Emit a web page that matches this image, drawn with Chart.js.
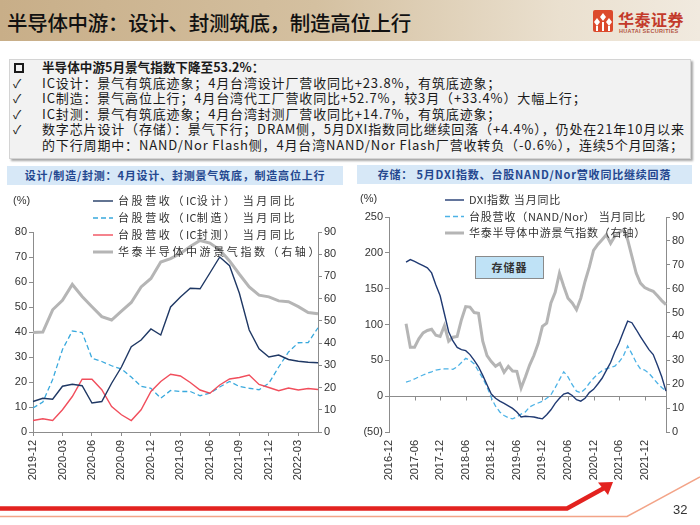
<!DOCTYPE html>
<html><head><meta charset="utf-8">
<script src="https://cdn.jsdelivr.net/npm/chart.js@4.4.1/dist/chart.umd.min.js"></script>
<style>
body{margin:0;background:#fff;}
#page{position:relative;width:700px;height:525px;overflow:hidden;background:#fff;font-family:"Noto Sans CJK SC","Liberation Sans",sans-serif;}
#hdr{position:absolute;left:0;top:0;width:700px;height:41px;background:linear-gradient(to right,#c8ae88 0%,#d4c0a0 45%,#eae0cf 80%,#f1eadf 100%);}
#title{position:absolute;left:7px;top:7px;font-size:20.5px;color:#111;letter-spacing:-0.3px;white-space:nowrap;font-weight:500;}
#logo{position:absolute;left:593px;top:10px;width:20px;height:22px;background:#dc4a2c;border-radius:2px;}
#logoT{position:absolute;left:618px;top:7px;font-size:16px;font-weight:bold;color:#c33a2b;letter-spacing:0.5px;white-space:nowrap;}
#logoS{position:absolute;left:619px;top:28px;font-size:5.5px;color:#b35544;font-family:"Liberation Sans",sans-serif;font-weight:bold;white-space:nowrap;letter-spacing:0.3px;}
#box{position:absolute;left:9px;top:59px;width:680px;height:98px;background:#f2f2f2;border:1px solid #d4d4d4;box-shadow:2px 2px 2px #a8a8a8;}
.ln{position:absolute;left:42px;font-size:13px;color:#1a1a1a;white-space:nowrap;line-height:14px;letter-spacing:0.85px;}
.bl{position:absolute;left:13px;font-size:12px;color:#1a1a1a;line-height:14px;}
#sq{position:absolute;left:14px;top:63px;width:6px;height:6px;border:2px solid #1a1a1a;}
.bar{position:absolute;height:19px;background:#d7e8f7;color:#24478f;font-weight:bold;font-size:11px;line-height:19px;text-align:center;white-space:nowrap;letter-spacing:0.8px;}
canvas{position:absolute;}
#mem{position:absolute;left:475px;top:256px;width:67px;height:21px;background:#bfe2f6;border:1px solid #8a8a8a;text-align:center;line-height:21px;font-size:11px;font-weight:bold;color:#333;letter-spacing:1px;}
#pg{position:absolute;left:673px;top:502px;font-size:13px;color:#333;font-family:"Liberation Sans",Arial,sans-serif;}
</style></head>
<body>
<div id="page">
  <div id="hdr"></div>
  <div id="title">半导体中游：设计、封测筑底，制造高位上行</div>
  <div id="logo">
    <svg width="20" height="22" viewBox="0 0 20 22"><path d="M10 3 L13 7 L10 11 L7 7 Z M4 8 L7 12 L4 16 L1 12 Z M16 8 L19 12 L16 16 L13 12 Z" fill="#fff"/><rect x="3" y="16" width="2" height="5" fill="#fff"/><rect x="9" y="12" width="2" height="9" fill="#fff"/><rect x="15" y="16" width="2" height="5" fill="#fff"/></svg>
  </div>
  <div id="logoT">华泰证券</div>
  <div id="logoS">HUATAI SECURITIES</div>

  <div id="box"></div>
  <div id="sq"></div>
  <div class="ln" style="top:60px;font-weight:bold;font-size:12.6px;letter-spacing:0;">半导体中游5月景气指数下降至53.2%：</div>
  <div class="bl" style="top:76px;">✓</div>
  <div class="ln" style="top:76px;">IC设计：景气有筑底迹象；4月台湾设计厂营收同比+23.8%，有筑底迹象；</div>
  <div class="bl" style="top:91px;">✓</div>
  <div class="ln" style="top:91px;">IC制造：景气高位上行；4月台湾代工厂营收同比+52.7%，较3月（+33.4%）大幅上行；</div>
  <div class="bl" style="top:107px;">✓</div>
  <div class="ln" style="top:107px;">IC封测：景气有筑底迹象；4月台湾封测厂营收同比+14.7%，有筑底迹象；</div>
  <div class="bl" style="top:122px;">✓</div>
  <div class="ln" style="top:122px;">数字芯片设计（存储）：景气下行；DRAM侧，5月DXI指数同比继续回落（+4.4%），仍处在21年10月以来</div>
  <div class="ln" style="top:138px;">的下行周期中：NAND/Nor Flash侧，4月台湾NAND/Nor Flash厂营收转负（-0.6%），连续5个月回落；</div>

  <div class="bar" style="left:7px;top:166px;width:336px;">设计/制造/封测：4月设计、封测景气筑底，制造高位上行</div>
  <div class="bar" style="left:357px;top:165px;width:335px;">存储：&nbsp;5月DXI指数、台股NAND/Nor营收同比继续回落</div>

  <canvas id="c1" width="345" height="300" style="left:0px;top:190px;"></canvas>
  <canvas id="c2" width="350" height="300" style="left:350px;top:190px;"></canvas>
  <div id="mem">存储器</div>

  <svg style="position:absolute;left:0;top:0" width="700" height="525">
    <polyline points="0,516.5 627,516.5 700,477" fill="none" stroke="#f3a488" stroke-width="1.5"/>
    <polyline points="0,508.5 567,508.5 606,487" fill="none" stroke="#e3221f" stroke-width="4.5"/>
    <polygon points="613,482 598,482.5 608,495" fill="#e3221f"/>
  </svg>
  <div id="pg">32</div>
</div>
<script>
// ---------- Left chart data (monthly, 2019-12 .. 2022-05) ----------
const leftMonths = ['2019-12','2020-01','2020-02','2020-03','2020-04','2020-05','2020-06','2020-07','2020-08','2020-09','2020-10','2020-11','2020-12','2021-01','2021-02','2021-03','2021-04','2021-05','2021-06','2021-07','2021-08','2021-09','2021-10','2021-11','2021-12','2022-01','2022-02','2022-03','2022-04','2022-05'];
const icDesign  = [12.2,13.5,13.1,18.3,19.1,18.5,11.6,12.2,19.5,26.0,34.1,36.8,41.2,38.8,50.0,54.0,57.5,57.3,63.6,70.0,66.5,55.5,40.8,33.3,30.0,30.8,29.0,28.3,27.9,27.7];
const icFoundry = [9.6,12.0,21.0,33.0,40.4,39.8,29.5,28.2,26.5,25.2,22.0,18.3,17.5,13.5,16.6,16.2,16.2,14.5,15.5,18.0,20.2,18.2,17.5,16.9,19.5,26.0,32.0,35.7,35.8,41.7];
const icOSAT    = [4.6,5.3,4.6,8.9,14.2,21.1,21.1,16.9,10.2,6.9,4.6,8.9,16.2,20.2,23.1,22.4,19.8,16.8,15.5,18.8,21.2,21.8,22.8,19.0,17.8,16.5,17.6,16.8,17.4,17.0];
const htIndexL  = [44.8,45.0,55.0,59.3,66.4,61.0,56.4,51.9,50.4,54.4,58.3,65.3,69.1,76.5,78.0,80.3,83.5,86.2,85.0,82.0,77.0,71.0,65.3,61.6,60.8,59.0,58.6,56.4,53.8,53.2];
const leftNames = ['台股营收（IC设计） 当月同比','台股营收（IC制造） 当月同比','台股营收（IC封测） 当月同比','华泰半导体中游景气指数（右轴）'];

// ---------- Right chart data (monthly, 2016-12 .. 2022-05) ----------
const rightMonths = ['2016-12','2017-01','2017-02','2017-03','2017-04','2017-05','2017-06','2017-07','2017-08','2017-09','2017-10','2017-11',
 '2017-12','2018-01','2018-02','2018-03','2018-04','2018-05','2018-06','2018-07','2018-08','2018-09','2018-10','2018-11',
 '2018-12','2019-01','2019-02','2019-03','2019-04','2019-05','2019-06','2019-07','2019-08','2019-09','2019-10','2019-11',
 '2019-12','2020-01','2020-02','2020-03','2020-04','2020-05','2020-06','2020-07','2020-08','2020-09','2020-10','2020-11',
 '2020-12','2021-01','2021-02','2021-03','2021-04','2021-05','2021-06','2021-07','2021-08','2021-09','2021-10','2021-11',
 '2021-12','2022-01','2022-02','2022-03','2022-04','2022-05'];
const dxiYoY = [null,null,null,null,187,190.5,188,185,182,179,172,155,
 140,115,90,77,68,65,63.5,58,50,41,29,16,
 3,-3,-7,-10,-13.5,-17,-22,-29,-28,-28.5,-29,-30.5,
 -31.6,-26,-19,-10,-3,3,4.7,1,-5,-7,-3,5,
 9.5,17,25,36,47,62,74.5,90,104.7,102.5,93,83,
 74,65,58,43,27,7];
const nandYoY = [null,null,null,null,19.5,21.5,24,27,29.5,32,34,36.5,
 37.5,38,38,37.5,41,47,53,50,45,35,25,13,
 -2,-14,-22,-27,-30,-31.6,-29,-25,-22,-15,-12,-9.5,
 -7,-3,2,12,23,34,27,16,7,4.7,10,18,
 25,31,35.5,38.5,40,42,48,56,70,59,47,38,
 36.5,32,25,18,12,7];
const htIndexR = [null,null,null,null,45.3,35.5,35.5,39,41.5,42.5,43,40.5,
 40,44.5,38,39.7,40,47,52.5,52.3,50,49.7,38,32,
 29.5,27.5,28.7,25,27.5,25.5,25.4,18.4,23,28,32,37,
 44.2,45.6,54,58.5,66.5,61,56,54,51.2,56,63,69,
 76,78.5,80.5,82.6,79,82,83.5,84.7,80.5,73.5,66.5,62.3,
 60.5,59.6,58.9,57,55,53.3];
const rightNames = ['DXI指数 当月同比','台股营收（NAND/Nor） 当月同比','华泰半导体中游景气指数（右轴）'];

// ---------- styles ----------
const NAVY='#1f3864', LBLUE='#39a9dd', RED='#f14e5c', GRAY='#b5b5b5', AXIS='#8c8c8c', TXT='#333';
const tickFont={family:'"Liberation Sans", Arial, sans-serif', size:11};
const cjkFont='11px "Noto Sans CJK SC", sans-serif';

function spacedText(ctx, str, x, y, sp){
  for(const ch of str){ ctx.fillText(ch, x, y); x += ctx.measureText(ch).width + (ch.charCodeAt(0)>255 || ch===' ' ? sp : 0.3); }
}

const overlay = {
  id:'overlay',
  beforeDatasetsDraw(chart, args, o){
    if(!o.zeroLine) return;
    const ctx=chart.ctx, ca=chart.chartArea, ys=chart.scales.y, xs=chart.scales.x;
    const y0=Math.round(ys.getPixelForValue(0))+0.5;
    ctx.save(); ctx.strokeStyle=AXIS; ctx.lineWidth=1;
    ctx.beginPath(); ctx.moveTo(ca.left,y0); ctx.lineTo(ca.right,y0);
    chart.data.labels.forEach((l,i)=>{ if(i>0 && i%o.zeroLine.every===0){ const x=Math.round(xs.getPixelForValue(i))+0.5; ctx.moveTo(x,y0); ctx.lineTo(x,y0+4);} });
    ctx.stroke(); ctx.restore();
  },
  afterDatasetsDraw(chart, args, o){
    const ctx=chart.ctx; ctx.save();
    ctx.textBaseline='middle';
    if(o.unit){ ctx.font='11px "Liberation Sans", Arial, sans-serif'; ctx.fillStyle=TXT; ctx.fillText('(%)', o.unit.x, o.unit.y); }
    const L=o.legend;
    L.names.forEach((name,k)=>{
      const ds=chart.data.datasets.find(d=>d.label===name);
      const y=L.y+k*L.dy;
      ctx.beginPath(); ctx.strokeStyle=ds.borderColor; ctx.lineWidth=ds.borderWidth; ctx.setLineDash(ds.borderDash||[]);
      ctx.moveTo(L.x,y); ctx.lineTo(L.x+L.len,y); ctx.stroke(); ctx.setLineDash([]);
      ctx.fillStyle=TXT; ctx.font=cjkFont; spacedText(ctx, name, L.x+L.len+L.gap, y, L.spacing);
    });
    ctx.restore();
  }
};

function yAxis(pos,min,max,step,width,cb){
  return {position:pos,min:min,max:max,
    ticks:{stepSize:step,font:tickFont,color:TXT,padding:2,callback:cb||(v=>v)},
    grid:{drawOnChartArea:false,drawTicks:true,tickLength:4,color:AXIS},
    border:{display:true,color:AXIS},
    afterFit(s){s.width=width;}};
}

// ---------- Left chart ----------
new Chart(document.getElementById('c1'),{
  type:'line',
  data:{labels:leftMonths,datasets:[
    {label:leftNames[0],data:icDesign,borderColor:NAVY,borderWidth:1.4,yAxisID:'y'},
    {label:leftNames[2],data:icOSAT,borderColor:RED,borderWidth:1.4,yAxisID:'y'},
    {label:leftNames[1],data:icFoundry,borderColor:LBLUE,borderWidth:1.3,borderDash:[5,3],yAxisID:'y'},
    {label:leftNames[3],data:htIndexL,borderColor:GRAY,borderWidth:3,yAxisID:'y1'}
  ]},
  options:{responsive:false,animation:false,
    layout:{padding:{top:42,left:0,right:0,bottom:0}},
    elements:{point:{radius:0},line:{tension:0}},
    plugins:{legend:{display:false},tooltip:{enabled:false},
      overlay:{unit:{x:13,y:11},legend:{names:leftNames,x:93,y:11,dy:17,len:20,gap:5,spacing:2.6}}},
    scales:{
      x:{ticks:{autoSkip:false,minRotation:90,maxRotation:90,font:tickFont,color:TXT,padding:4,
           callback(v,i){return i%3===0?this.getLabelForValue(v):null;}},
         grid:{drawOnChartArea:false,drawTicks:true,tickLength:4,color:AXIS},
         border:{display:true,color:AXIS},
         afterFit(s){s.height=58;}},
      y:yAxis('left',0,80,10,33),
      y1:yAxis('right',0,90,10,27)
    }},
  plugins:[overlay]
});

// ---------- Right chart ----------
new Chart(document.getElementById('c2'),{
  type:'line',
  data:{labels:rightMonths,datasets:[
    {label:rightNames[0],data:dxiYoY,borderColor:'#203a72',borderWidth:1.4,yAxisID:'y'},
    {label:rightNames[1],data:nandYoY,borderColor:'#4cb2e6',borderWidth:1.3,borderDash:[5,3],yAxisID:'y'},
    {label:rightNames[2],data:htIndexR,borderColor:GRAY,borderWidth:3,yAxisID:'y1'}
  ]},
  options:{responsive:false,animation:false,
    layout:{padding:{top:27,left:0,right:0,bottom:0}},
    elements:{point:{radius:0},line:{tension:0}},
    plugins:{legend:{display:false},tooltip:{enabled:false},
      overlay:{zeroLine:{every:6},unit:{x:10,y:9},legend:{names:rightNames,x:95,y:10,dy:16.5,len:19,gap:5,spacing:0.8}}},
    scales:{
      x:{ticks:{autoSkip:false,minRotation:90,maxRotation:90,font:tickFont,color:TXT,padding:8,
           callback(v,i){return i%6===0?this.getLabelForValue(v):null;}},
         grid:{display:false,drawTicks:false},
         border:{display:false},
         afterFit(s){s.height=58;}},
      y:yAxis('left',-50,250,50,39,v=>v<0?'('+(-v)+')':v),
      y1:yAxis('right',0,90,10,34)
    }},
  plugins:[overlay]
});
</script>
</body></html>
